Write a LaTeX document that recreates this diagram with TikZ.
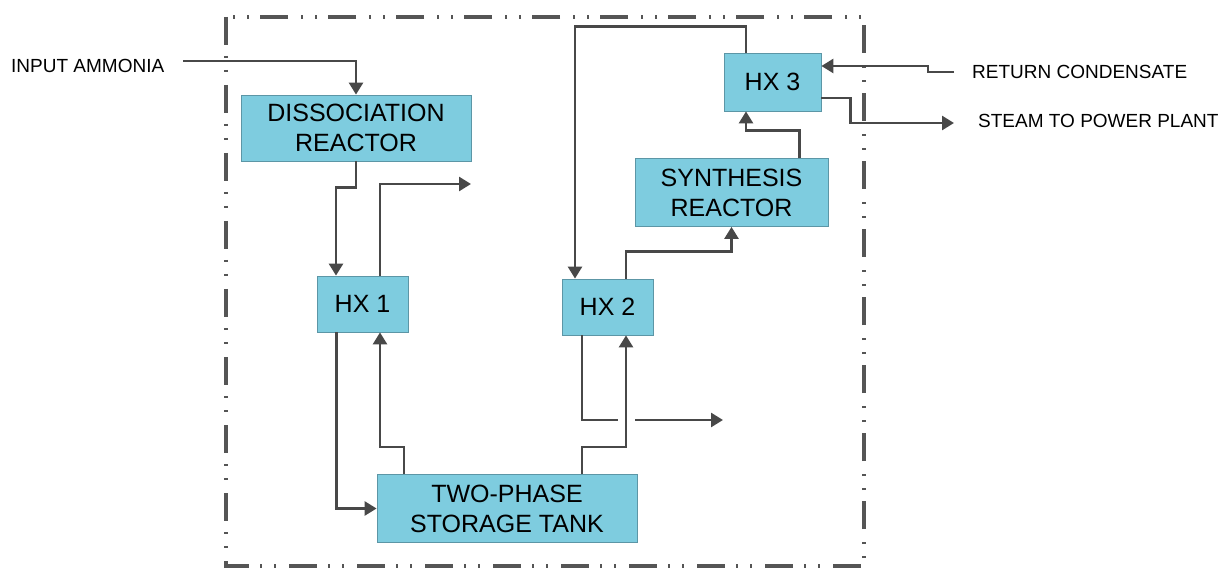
\documentclass[tikz,border=0pt]{standalone}
\usepackage{fontspec}
\setmainfont{Liberation Sans}
\usepackage{xcolor}
\usetikzlibrary{positioning}
\usetikzlibrary{arrows.meta}
\usetikzlibrary{calc}

\definecolor{unitfill}{RGB}{126,204,223}
\definecolor{unitedge}{RGB}{92,150,166}
\definecolor{pipe}{RGB}{72,72,72}
\definecolor{frame}{RGB}{85,85,85}

\begin{document}
\begin{tikzpicture}[x=1pt,y=-1pt,>={Triangle[width=14pt,length=12pt]},
                    unit node/.style={rectangle,draw=unitedge,fill=unitfill,line width=0.8pt,
                                      inner sep=0pt,align=center,font=\fontsize{25}{30}\selectfont},
                    flow/.style={draw=pipe,line width=2.6pt},
                    tag/.style={anchor=west,inner sep=0pt,font=\fontsize{19}{22}\selectfont},
                    border/.style={draw=frame,line width=3.2pt,
                                   dash pattern=on 28pt off 11pt on 2pt off 12pt on 2pt off 13pt}]
\useasboundingbox (0,0) rectangle (1223,569);

% plant boundary
\draw[border] (226,17) rectangle (864,566);

% units
\node[unit node,minimum width=230pt,minimum height=66pt] (diss) at (356,128) {DISSOCIATION\\REACTOR};
\node[unit node,minimum width=91pt,minimum height=56pt] (hx1) at (362.5,304) {HX 1};
\node[unit node,minimum width=91pt,minimum height=56pt] (hx2) at (607.5,307) {HX 2};
\node[unit node,minimum width=193pt,minimum height=68pt] (synth) at (731.5,192.5) {SYNTHESIS\\REACTOR};
\node[unit node,minimum width=97pt,minimum height=58pt] (hx3) at (772.5,82) {HX 3};
\node[unit node,minimum width=260pt,minimum height=68pt] (tank) at (507,508.5) {TWO-PHASE\\STORAGE TANK};

% outside streams
\node[tag] (ammonia) at (11,66) {INPUT AMMONIA};
\node[tag] (cond) at (972,72) {RETURN CONDENSATE};
\node[tag] (steam) at (978,121) {STEAM TO POWER PLANT};

\coordinate (inA) at (183,61);
\coordinate (out1) at (471,184);
\coordinate (gapL) at (618,420);
\coordinate (gapR) at (635,420);
\coordinate (out2) at (723,420);
\coordinate (retC) at (954,72);
\coordinate (steamEnd) at (954,123);

\draw[flow,->] (inA) -| (diss.north);
\draw[flow,->] (diss.south) -- ++(0,26) -| ([xshift=-26.5pt]hx1.north);
\draw[flow,->] ([xshift=17.5pt]hx1.north) |- (out1);
\draw[flow,->] ([xshift=-26pt]hx1.south) |- (tank.west);
\draw[flow,->] ([xshift=-103pt]tank.north) -- ++(0,-27) -| ([xshift=17.5pt]hx1.south);

\draw[flow,->] ([xshift=75pt]tank.north) -- ++(0,-27) -| ([xshift=18.5pt]hx2.south);
\draw[flow] ([xshift=-25.5pt]hx2.south) |- (gapL);
\draw[flow,->] (gapR) -- (out2);
\draw[flow,->] ([xshift=18.5pt]hx2.north) -- ++(0,-27) -| (synth.south);
\draw[flow,->] ([xshift=68pt]synth.north) -- ++(0,-27.5) -| ([xshift=-26.5pt]hx3.south);
\draw[flow,->] ([xshift=-26.5pt]hx3.north) -- ++(0,-26) -| ([xshift=-32.5pt]hx2.north);

\draw[flow,->] (retC) -- ++(-26,0) |- ([yshift=16pt]hx3.east);
\draw[flow,->] ([yshift=-16pt]hx3.east) -- ++(29,0) |- (steamEnd);
\end{tikzpicture}
\end{document}
